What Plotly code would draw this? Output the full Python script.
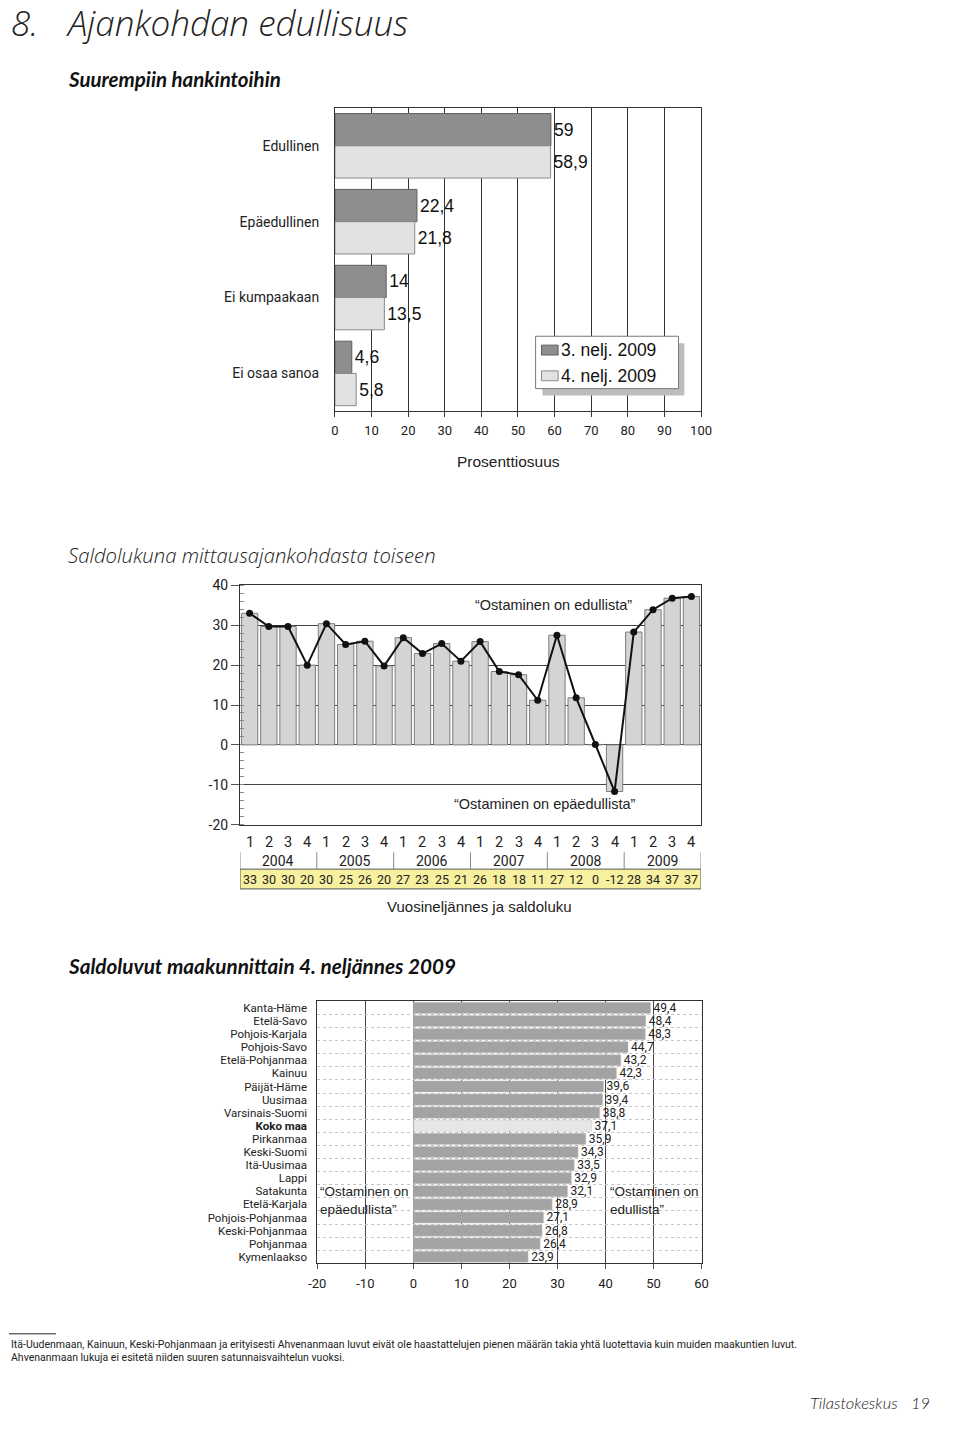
import plotly.graph_objects as go

# The page keeps the browser's default 8px body margin, so the figure is sized
# to fill the 960x1429 window exactly together with that margin.
PAGE_W, PAGE_H, OFF = 960, 1429, 8
W, H = PAGE_W - 2 * OFF, PAGE_H - 2 * OFF


def px(x):
    return (x - OFF) / W


def py(y):
    return 1 - (y - OFF) / H


NARROW = "Roboto, Liberation Sans Narrow, sans-serif"
ARIAL = "Liberation Sans, Arial, Helvetica, sans-serif"
HEAD = "Open Sans, Lato, sans-serif"
LATO = "Lato, Open Sans, sans-serif"

# ---------------- Data ----------------
# Chart 1: Suurempiin hankintoihin
answer_cats = ["Edullinen", "Epäedullinen", "Ei kumpaakaan", "Ei osaa sanoa"]
q3_2009 = [59, 22.4, 14, 4.6]
q4_2009 = [58.9, 21.8, 13.5, 5.8]
series_names = ["3. nelj. 2009", "4. nelj. 2009"]
series_colors = ["#8e8e8e", "#e2e2e2"]
pct_ticks = [0, 10, 20, 30, 40, 50, 60, 70, 80, 90, 100]

# Chart 2: Saldolukuna mittausajankohdasta toiseen
years = ["2004", "2005", "2006", "2007", "2008", "2009"]
quarter_nums = ["1", "2", "3", "4"]
saldo_values = [33.0, 29.7, 29.7, 20.0, 30.4, 25.2, 26.0, 19.8,
                26.9, 22.9, 25.4, 21.0, 25.9, 18.4, 17.6, 11.2,
                27.5, 11.8, 0.1, -11.7, 28.3, 33.9, 36.8, 37.2]
saldo_labels = ["33", "30", "30", "20", "30", "25", "26", "20",
                "27", "23", "25", "21", "26", "18", "18", "11",
                "27", "12", "0", "-12", "28", "34", "37", "37"]
saldo_ticks = [-20, -10, 0, 10, 20, 30, 40]

# Chart 3: Saldoluvut maakunnittain 4. neljännes 2009
regions = ["Kanta-Häme", "Etelä-Savo", "Pohjois-Karjala", "Pohjois-Savo",
           "Etelä-Pohjanmaa", "Kainuu", "Päijät-Häme", "Uusimaa",
           "Varsinais-Suomi", "Koko maa", "Pirkanmaa", "Keski-Suomi",
           "Itä-Uusimaa", "Lappi", "Satakunta", "Etelä-Karjala",
           "Pohjois-Pohjanmaa", "Keski-Pohjanmaa", "Pohjanmaa", "Kymenlaakso"]
region_values = [49.4, 48.4, 48.3, 44.7, 43.2, 42.3, 39.6, 39.4, 38.8, 37.1,
                 35.9, 34.3, 33.5, 32.9, 32.1, 28.9, 27.1, 26.8, 26.4, 23.9]
region_ticks = [-20, -10, 0, 10, 20, 30, 40, 50, 60]
total_name = "Koko maa"


def fi(v):
    return f"{v:g}".replace(".", ",")


fig = go.Figure()

# ---------------- Chart 1 ----------------
line_cols = ["#5e5e5e", "#8a8a8a"]
for name, vals, col, lc in zip(series_names, [q3_2009, q4_2009], series_colors, line_cols):
    fig.add_trace(go.Bar(
        y=answer_cats, x=vals, orientation="h", name=name, showlegend=False,
        marker=dict(color=col, line=dict(color=lc, width=1)),
        text=[fi(v) for v in vals], textposition="outside", cliponaxis=False,
        constraintext="none",
        textfont=dict(family=ARIAL, size=17.5, color="#111"),
        xaxis="x", yaxis="y", hoverinfo="skip"))

# ---------------- Chart 2 ----------------
idx = list(range(len(saldo_values)))
fig.add_trace(go.Bar(
    x=idx, y=saldo_values, showlegend=False,
    marker=dict(color="#d4d4d4", line=dict(color="#7c7c7c", width=1)),
    xaxis="x2", yaxis="y2", hoverinfo="skip"))
fig.add_trace(go.Scatter(
    x=idx, y=saldo_values, mode="lines+markers", showlegend=False,
    line=dict(color="#111", width=2), marker=dict(color="#111", size=7),
    xaxis="x2", yaxis="y2", hoverinfo="skip"))

# ---------------- Chart 3 ----------------
region_disp = [f"<b>{r}</b>" if r == total_name else r for r in regions]
region_colors = ["#e6e6e6" if r == total_name else "#a3a3a3" for r in regions]
fig.add_trace(go.Bar(
    y=region_disp, x=region_values, orientation="h", showlegend=False,
    marker=dict(color=region_colors, line=dict(color="#c8c8c8", width=0.5)),
    text=[f"{v:.1f}".replace(".", ",") for v in region_values],
    textposition="outside", cliponaxis=False, constraintext="none",
    textfont=dict(family=NARROW, size=12, color="#222"),
    xaxis="x3", yaxis="y3", hoverinfo="skip"))

annotations = []
shapes = []


def note(text, x, y, size, family=ARIAL, xanchor="center", color="#222", **kw):
    d = dict(text=text, x=x, y=y, xref=kw.pop("xref", "paper"), yref="paper",
             xanchor=xanchor, yanchor="middle", showarrow=False,
             font=dict(family=family, size=size, color=color,
                       **{k: v for k, v in kw.items() if k in ("style", "weight")}))
    if "align" in kw:
        d["align"] = kw["align"]
    annotations.append(d)


# headings
note("8.", px(8), py(23), 35, HEAD, "left", style="italic", weight=300)
note("Ajankohdan edullisuus", px(64), py(23), 35, HEAD, "left", style="italic", weight=300)
note("Suurempiin hankintoihin", px(66), py(80), 20.5, LATO, "left", "#111",
     style="italic", weight="bold")
note("Saldolukuna mittausajankohdasta toiseen", px(66), py(561), 20.3, HEAD, "left",
     style="italic", weight=300)
note("Saldoluvut maakunnittain 4. neljännes 2009", px(66), py(977), 20.7, LATO, "left",
     "#111", style="italic", weight="bold")

# chart 1 axis title
note("Prosenttiosuus", px(518), py(467), 15.5)

# chart 1 legend (shadow, box, swatches, labels)
shapes.append(dict(type="rect", xref="paper", yref="paper", x0=px(553), x1=px(698),
                   y0=py(400), y1=py(347), fillcolor="#bdbdbd", line=dict(width=0),
                   layer="above"))
shapes.append(dict(type="rect", xref="paper", yref="paper", x0=px(546), x1=px(692),
                   y0=py(393), y1=py(340), fillcolor="white",
                   line=dict(color="#777", width=1), layer="above"))
for k, (name, col, lc) in enumerate(zip(series_names, series_colors, line_cols)):
    yc = 354 + 26 * k
    shapes.append(dict(type="rect", xref="paper", yref="paper", x0=px(552), x1=px(569),
                       y0=py(yc + 5), y1=py(yc - 5), fillcolor=col,
                       line=dict(color=lc, width=1), layer="above"))
    note(name, px(570), py(yc), 17.5, ARIAL, "left", "#111")

# chart 2 labels below
for i in idx:
    note(quarter_nums[i % 4], i, py(852), 14.5, NARROW, xref="x2")
    note(saldo_labels[i], i, py(889.5), 12.5, NARROW, xref="x2")
for k, yr in enumerate(years):
    note(yr, 4 * k + 1.5, py(870.5), 14, NARROW, xref="x2")
for k in range(len(years) + 1):
    shapes.append(dict(type="line", xref="x2", yref="paper", x0=4 * k - 0.5,
                       x1=4 * k - 0.5, y0=py(879), y1=py(862),
                       line=dict(color="#888", width=1)))
shapes.append(dict(type="rect", xref="x2", yref="paper", x0=-0.5, x1=len(idx) - 0.5,
                   y0=py(899), y1=py(879), fillcolor="#f7f09e",
                   line=dict(color="#555", width=1), layer="below"))
note("Vuosineljännes ja saldoluku", px(489), py(916.5), 15)
note("“Ostaminen on edullista”", px(564), py(612), 14.5)
note("“Ostaminen on epäedullista”", px(556), py(813), 14.5)

# chart 3 annotations
note("“Ostaminen on<br>epäedullista”", px(324), py(1214), 13.5, ARIAL, "left",
     align="left")
note("“Ostaminen on<br>edullista”", px(620), py(1214), 13.5, ARIAL, "left",
     align="left")

# footnote
shapes.append(dict(type="line", xref="paper", yref="paper", x0=px(8), x1=px(56),
                   y0=py(1349), y1=py(1349), line=dict(color="#222", width=1)))
note("Itä-Uudenmaan, Kainuun, Keski-Pohjanmaan ja erityisesti Ahvenanmaan luvut "
     "eivät ole haastattelujen pienen määrän takia yhtä luotettavia kuin muiden "
     "maakuntien luvut.", px(8), py(1360), 10.5, NARROW, "left")
note("Ahvenanmaan lukuja ei esitetä niiden suuren satunnaisvaihtelun vuoksi.",
     px(8), py(1373), 10.5, NARROW, "left")
note("Tilastokeskus", px(918), py(1419), 16.5, LATO, "right", style="italic", weight=300)
note("19", px(951), py(1419), 16.5, LATO, "right", style="italic", weight=300)

axis_common = dict(showline=True, mirror=True, linecolor="#333", linewidth=1,
                   zeroline=False, fixedrange=True)

fig.update_layout(
    width=W, height=H, autosize=False,
    margin=dict(l=0, r=0, t=0, b=0, pad=0),
    paper_bgcolor="white", plot_bgcolor="white",
    barmode="group", bargap=0.15, bargroupgap=0,
    showlegend=False,
    xaxis=dict(domain=[px(341), px(715)], range=[0, 100], tickvals=pct_ticks,
               ticktext=[str(t) for t in pct_ticks],
               showgrid=True, gridcolor="#333", gridwidth=1,
               ticks="outside", ticklen=5, tickcolor="#333",
               tickfont=dict(family=NARROW, size=13, color="#222"),
               ticklabelstandoff=2, anchor="y", **axis_common),
    yaxis=dict(domain=[py(416), py(109)], autorange="reversed", type="category",
               ticks="", showgrid=False, ticklabelstandoff=12,
               tickfont=dict(family=NARROW, size=14, color="#222"),
               anchor="x", **axis_common),
    xaxis2=dict(domain=[px(244), px(715)], range=[-0.5, len(idx) - 0.5],
                showticklabels=False, showgrid=False, ticks="", anchor="y2",
                **axis_common),
    yaxis2=dict(domain=[py(834), py(592)], range=[-20, 40], tickvals=saldo_ticks,
                ticktext=[str(t) for t in saldo_ticks],
                showgrid=True, gridcolor="#444", gridwidth=1,
                ticks="outside", ticklen=8, tickcolor="#555",
                tickfont=dict(family=NARROW, size=14, color="#222"),
                minor=dict(dtick=2, ticks="inside", ticklen=4, tickcolor="#888",
                           showgrid=False),
                anchor="x2", **axis_common),
    xaxis3=dict(domain=[px(323), px(715.5)], range=[-20, 60], tickvals=region_ticks,
                ticktext=[str(t) for t in region_ticks],
                showgrid=True, gridcolor="#444", gridwidth=1,
                ticks="outside", ticklen=5, tickcolor="#555",
                tickfont=dict(family=NARROW, size=13, color="#222"),
                ticklabelstandoff=3, anchor="y3", **axis_common),
    yaxis3=dict(domain=[py(1277.7), py(1012.7)], autorange="reversed", type="category",
                tickmode="linear", tick0=0, dtick=1,
                tickson="boundaries", showgrid=True, gridcolor="#c4c4c4",
                griddash="dot", gridwidth=1, ticks="", ticklabelstandoff=7,
                tickfont=dict(family=NARROW, size=11.5, color="#222"),
                anchor="x3", **axis_common),
    annotations=annotations,
    shapes=shapes,
)

fig.write_html("out.html")
